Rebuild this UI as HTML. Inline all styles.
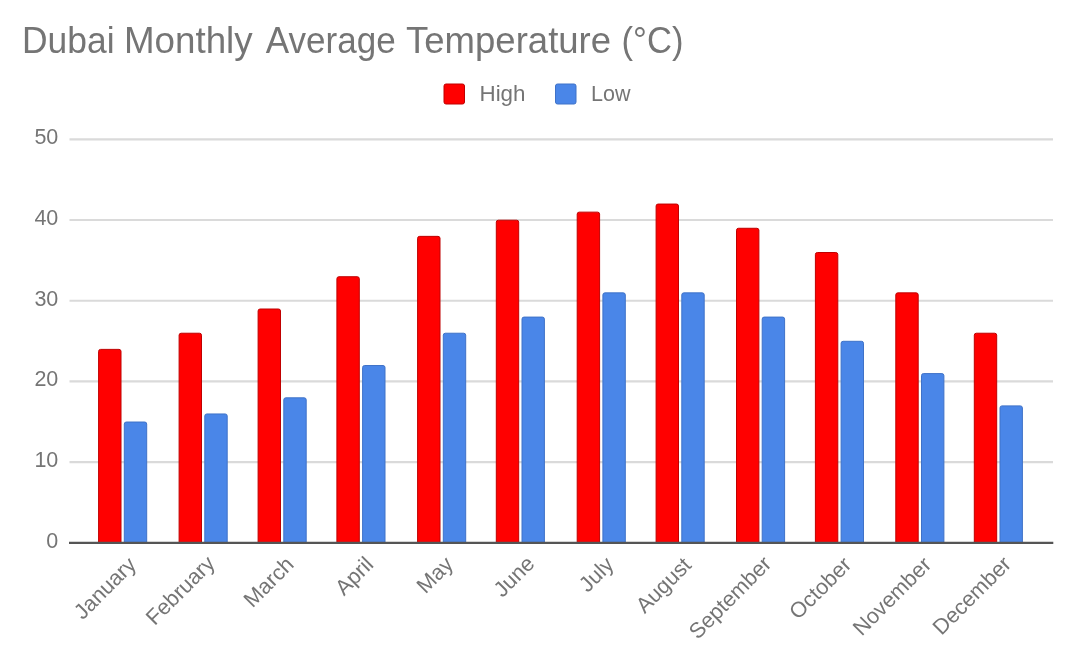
<!DOCTYPE html>
<html><head><meta charset="utf-8"><style>
html,body{margin:0;padding:0;background:#fff;}
body{width:1080px;height:658px;overflow:hidden;}
svg{display:block;font-family:"Liberation Sans",sans-serif;filter:blur(0.4px);}
</style></head><body>
<svg width="1080" height="658" viewBox="0 0 1080 658">
<rect width="1080" height="658" fill="#ffffff"/>
<g font-size="36" fill="#757575"><text x="22" y="52.8" textLength="92.5" lengthAdjust="spacingAndGlyphs">Dubai</text><text x="124" y="52.8" textLength="128.6" lengthAdjust="spacingAndGlyphs">Monthly</text><text x="265.8" y="52.8" textLength="129.9" lengthAdjust="spacingAndGlyphs">Average</text><text x="406" y="52.8" textLength="205.1" lengthAdjust="spacingAndGlyphs">Temperature</text><text x="621.6" y="52.8" textLength="61.8" lengthAdjust="spacingAndGlyphs">(°C)</text></g>
<rect x="444" y="84" width="20.5" height="20" rx="2" fill="#ff0000" stroke="#c00000" stroke-width="1"/>
<text x="479.5" y="100.8" font-size="21.5" fill="#757575" textLength="46" lengthAdjust="spacingAndGlyphs">High</text>
<rect x="555.5" y="84" width="20.5" height="20" rx="2" fill="#4a86e8" stroke="#3f72c8" stroke-width="1"/>
<text x="591" y="100.8" font-size="21.5" fill="#757575">Low</text>
<line x1="69.5" x2="1053" y1="462.20" y2="462.20" stroke="#dadada" stroke-width="2.2"/><line x1="69.5" x2="1053" y1="381.47" y2="381.47" stroke="#dadada" stroke-width="2.2"/><line x1="69.5" x2="1053" y1="300.74" y2="300.74" stroke="#dadada" stroke-width="2.2"/><line x1="69.5" x2="1053" y1="220.01" y2="220.01" stroke="#dadada" stroke-width="2.2"/><line x1="69.5" x2="1053" y1="139.28" y2="139.28" stroke="#dadada" stroke-width="2.2"/>
<g font-size="21.5" fill="#757575"><text x="58.3" y="547.73" text-anchor="end">0</text><text x="58.3" y="467.00" text-anchor="end">10</text><text x="58.3" y="386.27" text-anchor="end">20</text><text x="58.3" y="305.54" text-anchor="end">30</text><text x="58.3" y="224.81" text-anchor="end">40</text><text x="58.3" y="144.08" text-anchor="end">50</text></g>
<path d="M98.60,542.63 V351.38 Q98.60,349.38 100.60,349.38 H119.00 Q121.00,349.38 121.00,351.38 V542.63 Z" fill="#ff0000" stroke="#c00000" stroke-width="1"/><path d="M124.30,542.63 V424.03 Q124.30,422.03 126.30,422.03 H144.70 Q146.70,422.03 146.70,424.03 V542.63 Z" fill="#4a86e8" stroke="#3f72c8" stroke-width="1"/><path d="M179.10,542.63 V335.23 Q179.10,333.23 181.10,333.23 H199.50 Q201.50,333.23 201.50,335.23 V542.63 Z" fill="#ff0000" stroke="#c00000" stroke-width="1"/><path d="M204.80,542.63 V415.96 Q204.80,413.96 206.80,413.96 H225.20 Q227.20,413.96 227.20,415.96 V542.63 Z" fill="#4a86e8" stroke="#3f72c8" stroke-width="1"/><path d="M258.10,542.63 V311.01 Q258.10,309.01 260.10,309.01 H278.50 Q280.50,309.01 280.50,311.01 V542.63 Z" fill="#ff0000" stroke="#c00000" stroke-width="1"/><path d="M283.80,542.63 V399.82 Q283.80,397.82 285.80,397.82 H304.20 Q306.20,397.82 306.20,399.82 V542.63 Z" fill="#4a86e8" stroke="#3f72c8" stroke-width="1"/><path d="M336.90,542.63 V278.72 Q336.90,276.72 338.90,276.72 H357.30 Q359.30,276.72 359.30,278.72 V542.63 Z" fill="#ff0000" stroke="#c00000" stroke-width="1"/><path d="M362.60,542.63 V367.52 Q362.60,365.52 364.60,365.52 H383.00 Q385.00,365.52 385.00,367.52 V542.63 Z" fill="#4a86e8" stroke="#3f72c8" stroke-width="1"/><path d="M417.60,542.63 V238.36 Q417.60,236.36 419.60,236.36 H438.00 Q440.00,236.36 440.00,238.36 V542.63 Z" fill="#ff0000" stroke="#c00000" stroke-width="1"/><path d="M443.30,542.63 V335.23 Q443.30,333.23 445.30,333.23 H463.70 Q465.70,333.23 465.70,335.23 V542.63 Z" fill="#4a86e8" stroke="#3f72c8" stroke-width="1"/><path d="M496.30,542.63 V222.21 Q496.30,220.21 498.30,220.21 H516.70 Q518.70,220.21 518.70,222.21 V542.63 Z" fill="#ff0000" stroke="#c00000" stroke-width="1"/><path d="M522.00,542.63 V319.09 Q522.00,317.09 524.00,317.09 H542.40 Q544.40,317.09 544.40,319.09 V542.63 Z" fill="#4a86e8" stroke="#3f72c8" stroke-width="1"/><path d="M577.20,542.63 V214.14 Q577.20,212.14 579.20,212.14 H597.60 Q599.60,212.14 599.60,214.14 V542.63 Z" fill="#ff0000" stroke="#c00000" stroke-width="1"/><path d="M602.90,542.63 V294.87 Q602.90,292.87 604.90,292.87 H623.30 Q625.30,292.87 625.30,294.87 V542.63 Z" fill="#4a86e8" stroke="#3f72c8" stroke-width="1"/><path d="M656.10,542.63 V206.06 Q656.10,204.06 658.10,204.06 H676.50 Q678.50,204.06 678.50,206.06 V542.63 Z" fill="#ff0000" stroke="#c00000" stroke-width="1"/><path d="M681.80,542.63 V294.87 Q681.80,292.87 683.80,292.87 H702.20 Q704.20,292.87 704.20,294.87 V542.63 Z" fill="#4a86e8" stroke="#3f72c8" stroke-width="1"/><path d="M736.50,542.63 V230.28 Q736.50,228.28 738.50,228.28 H756.90 Q758.90,228.28 758.90,230.28 V542.63 Z" fill="#ff0000" stroke="#c00000" stroke-width="1"/><path d="M762.20,542.63 V319.09 Q762.20,317.09 764.20,317.09 H782.60 Q784.60,317.09 784.60,319.09 V542.63 Z" fill="#4a86e8" stroke="#3f72c8" stroke-width="1"/><path d="M815.40,542.63 V254.50 Q815.40,252.50 817.40,252.50 H835.80 Q837.80,252.50 837.80,254.50 V542.63 Z" fill="#ff0000" stroke="#c00000" stroke-width="1"/><path d="M841.10,542.63 V343.30 Q841.10,341.30 843.10,341.30 H861.50 Q863.50,341.30 863.50,343.30 V542.63 Z" fill="#4a86e8" stroke="#3f72c8" stroke-width="1"/><path d="M895.80,542.63 V294.87 Q895.80,292.87 897.80,292.87 H916.20 Q918.20,292.87 918.20,294.87 V542.63 Z" fill="#ff0000" stroke="#c00000" stroke-width="1"/><path d="M921.50,542.63 V375.60 Q921.50,373.60 923.50,373.60 H941.90 Q943.90,373.60 943.90,375.60 V542.63 Z" fill="#4a86e8" stroke="#3f72c8" stroke-width="1"/><path d="M974.30,542.63 V335.23 Q974.30,333.23 976.30,333.23 H994.70 Q996.70,333.23 996.70,335.23 V542.63 Z" fill="#ff0000" stroke="#c00000" stroke-width="1"/><path d="M1000.00,542.63 V407.89 Q1000.00,405.89 1002.00,405.89 H1020.40 Q1022.40,405.89 1022.40,407.89 V542.63 Z" fill="#4a86e8" stroke="#3f72c8" stroke-width="1"/>
<line x1="69" x2="1053.3" y1="542.83" y2="542.83" stroke="#555555" stroke-width="2.2"/>
<g font-size="21.7" fill="#757575"><text transform="translate(137.3,566.0) rotate(-45)" text-anchor="end">January</text><text transform="translate(216.1,564.8) rotate(-45)" text-anchor="end">February</text><text transform="translate(295.1,565.8) rotate(-45)" text-anchor="end">March</text><text transform="translate(374.6,565.8) rotate(-45)" text-anchor="end">April</text><text transform="translate(454.5,565.5) rotate(-45)" text-anchor="end">May</text><text transform="translate(535.7,564.9) rotate(-45)" text-anchor="end">June</text><text transform="translate(615.0,565.9) rotate(-45)" text-anchor="end">July</text><text transform="translate(692.6,566.4) rotate(-45)" text-anchor="end">August</text><text transform="translate(772.7,565.2) rotate(-45)" text-anchor="end">September</text><text transform="translate(852.6,566.0) rotate(-45)" text-anchor="end">October</text><text transform="translate(932.5,566.0) rotate(-45)" text-anchor="end">November</text><text transform="translate(1012.3,565.3) rotate(-45)" text-anchor="end">December</text></g>
</svg>
</body></html>
